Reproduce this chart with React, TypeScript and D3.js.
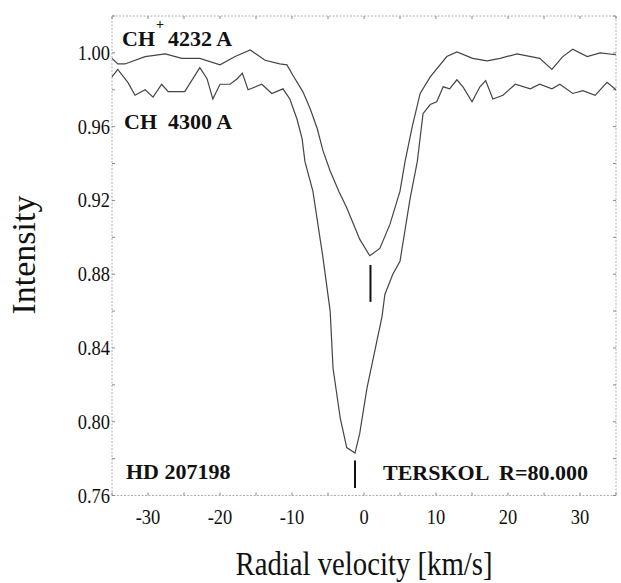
import React from "react";
import * as d3 from "d3";

const W = 621;
const H = 583;

// CH+ 4232 A profile: velocity (km/s), intensity
const chPlusVel = [-35.0, -34.2, -33.2, -30.4, -27.6, -25.3, -22.8, -20.0, -17.9, -15.8, -13.75, -11.7, -10.7, -9.9, -8.5, -7.5, -6.5, -5.7, -4.7, -3.5, -2.4, -0.6, 0.8, 2.2, 3.6, 5.0, 5.7, 6.7, 7.8, 9.2, 11.5, 12.9, 15.1, 17.1, 18.9, 21.25, 24.4, 26.1, 27.6, 29.0, 31.0, 32.8, 35.0];
const chPlusInt = [0.997, 0.994, 0.994, 0.998, 0.9995, 0.997, 0.997, 0.9935, 0.998, 1.0016, 0.996, 0.994, 0.9935, 0.988, 0.979, 0.970, 0.959, 0.947, 0.936, 0.925, 0.916, 0.899, 0.890, 0.894, 0.907, 0.925, 0.941, 0.960, 0.978, 0.987, 0.998, 1.0005, 0.997, 0.9957, 0.997, 0.9995, 0.997, 0.991, 0.998, 1.002, 0.998, 1.0, 0.999];

// CH 4300 A profile
const chVel = [-35.0, -34.2, -32.8, -31.8, -30.4, -29.3, -28.1, -27.2, -24.9, -22.8, -21.8, -21.0, -20.0, -18.6, -17.6, -16.9, -16.1, -14.2, -12.8, -11.25, -10.3, -9.3, -8.6, -8.2, -7.1, -5.7, -4.7, -4.3, -3.3, -2.4, -1.25, -0.6, 0.4, 1.8, 2.5, 2.9, 4.0, 5.0, 6.4, 7.4, 8.2, 9.2, 10.1, 11.0, 11.9, 12.9, 13.75, 15.0, 16.1, 16.9, 17.9, 19.3, 21.0, 23.1, 24.4, 26.1, 27.2, 29.0, 30.4, 32.1, 33.75, 35.0];
const chInt = [0.987, 0.991, 0.984, 0.977, 0.980, 0.976, 0.983, 0.979, 0.979, 0.992, 0.986, 0.975, 0.983, 0.983, 0.986, 0.989, 0.980, 0.983, 0.978, 0.9805, 0.975, 0.964, 0.9535, 0.941, 0.925, 0.889, 0.860, 0.829, 0.802, 0.786, 0.783, 0.7935, 0.818, 0.844, 0.857, 0.869, 0.880, 0.887, 0.921, 0.941, 0.967, 0.972, 0.9735, 0.9816, 0.9805, 0.9854, 0.9816, 0.9735, 0.9816, 0.985, 0.975, 0.977, 0.983, 0.9805, 0.983, 0.9805, 0.983, 0.978, 0.9795, 0.977, 0.984, 0.980];

// vertical line markers: velocity, from intensity, to intensity
const markerVel = [0.9, -1.25];
const markerLo = [0.865, 0.764];
const markerHi = [0.885, 0.779];

const xTicks = [-30, -20, -10, 0, 10, 20, 30];
const yTicks = [0.76, 0.8, 0.84, 0.88, 0.92, 0.96, 1.0];
const yTickLabels = ["0.76", "0.80", "0.84", "0.88", "0.92", "0.96", "1.00"];
const xMinor = [-35, -30, -25, -20, -15, -10, -5, 0, 5, 10, 15, 20, 25, 30, 35];
const yMinor = [0.76, 0.78, 0.8, 0.82, 0.84, 0.86, 0.88, 0.9, 0.92, 0.94, 0.96, 0.98, 1.0, 1.02];

const FONT = "Liberation Serif, Tinos, DejaVu Serif, serif";

export default function App() {
  const x = d3.scaleLinear().domain([-35, 35]).range([112, 616]);
  const y = d3.scaleLinear().domain([0.76, 1.02]).range([495.5, 16]);

  const line = d3
    .line<[number, number]>()
    .x((d) => x(d[0]))
    .y((d) => y(d[1]));

  const upper = chPlusVel.map((v, i) => [v, chPlusInt[i]] as [number, number]);
  const lower = chVel.map((v, i) => [v, chInt[i]] as [number, number]);

  const [x0, x1] = x.range();
  const [y0, y1] = y.range();
  const frameColor = "#b0b0b0";
  const txt = { fontFamily: FONT };

  return (
    <svg
      width={W}
      height={H}
      style={{ position: "absolute", left: 0, top: 0, background: "#fff" }}
    >
      {/* frame */}
      <rect
        x={x0}
        y={y1}
        width={x1 - x0}
        height={y0 - y1}
        fill="none"
        stroke={frameColor}
        strokeWidth={1}
        strokeDasharray="2,1.5"
      />
      {/* minor ticks */}
      {xMinor.map((v) => (
        <g key={"xm" + v}>
          <line x1={x(v)} x2={x(v)} y1={y0} y2={y0 - 3} stroke="#888" />
          <line x1={x(v)} x2={x(v)} y1={y1} y2={y1 + 3} stroke="#888" />
        </g>
      ))}
      {yMinor.map((v) => (
        <g key={"ym" + v}>
          <line x1={x0} x2={x0 + 3} y1={y(v)} y2={y(v)} stroke="#888" />
          <line x1={x1} x2={x1 - 3} y1={y(v)} y2={y(v)} stroke="#888" />
        </g>
      ))}
      {/* y tick labels */}
      {yTicks.map((v, i) => (
        <text
          key={"yl" + v}
          transform={`translate(${x0 - 2},${y(v) + 7}) scale(0.88,1)`}
          textAnchor="end"
          style={txt}
          fontSize={21}
          fill="#111"
        >
          {yTickLabels[i]}
        </text>
      ))}
      {/* x tick labels */}
      {xTicks.map((v) => (
        <text
          key={"xl" + v}
          transform={`translate(${x(v)},${y0 + 28}) scale(0.88,1)`}
          textAnchor="middle"
          style={txt}
          fontSize={21}
          fill="#111"
        >
          {v}
        </text>
      ))}
      {/* axis titles */}
      <text
        x={364}
        y={575}
        textAnchor="middle"
        style={txt}
        fontSize={34}
        textLength={257}
        lengthAdjust="spacingAndGlyphs"
        fill="#111"
      >
        Radial velocity [km/s]
      </text>
      <text
        transform="translate(35,255) rotate(-90)"
        textAnchor="middle"
        style={txt}
        fontSize={34}
        fill="#111"
      >
        Intensity
      </text>
      {/* curves */}
      <path d={line(upper) || ""} fill="none" stroke="#444" strokeWidth={1.2} />
      <path d={line(lower) || ""} fill="none" stroke="#444" strokeWidth={1.2} />
      {/* markers */}
      {markerVel.map((v, i) => (
        <line
          key={"mk" + i}
          x1={x(v)}
          x2={x(v)}
          y1={y(markerLo[i])}
          y2={y(markerHi[i])}
          stroke="#111"
          strokeWidth={2}
        />
      ))}
      {/* annotations */}
      <text x={122} y={46} style={txt} fontWeight="bold" fontSize={22} fill="#111">
        CH
        <tspan dx={1} dy={-17} fontSize={14}>+</tspan>
        <tspan x={168} y={46}>4232 A</tspan>
      </text>
      <text x={124} y={129} style={txt} fontWeight="bold" fontSize={22} fill="#111">
        CH
        <tspan x={168}>4300 A</tspan>
      </text>
      <text x={126} y={479} style={txt} fontWeight="bold" fontSize={22} fill="#111">
        HD 207198
      </text>
      <text
        x={383}
        y={480}
        style={{ ...txt, whiteSpace: "pre" }}
        fontWeight="bold"
        fontSize={22}
        textLength={205}
        lengthAdjust="spacingAndGlyphs"
        fill="#111"
      >
        TERSKOL  R=80.000
      </text>
    </svg>
  );
}
